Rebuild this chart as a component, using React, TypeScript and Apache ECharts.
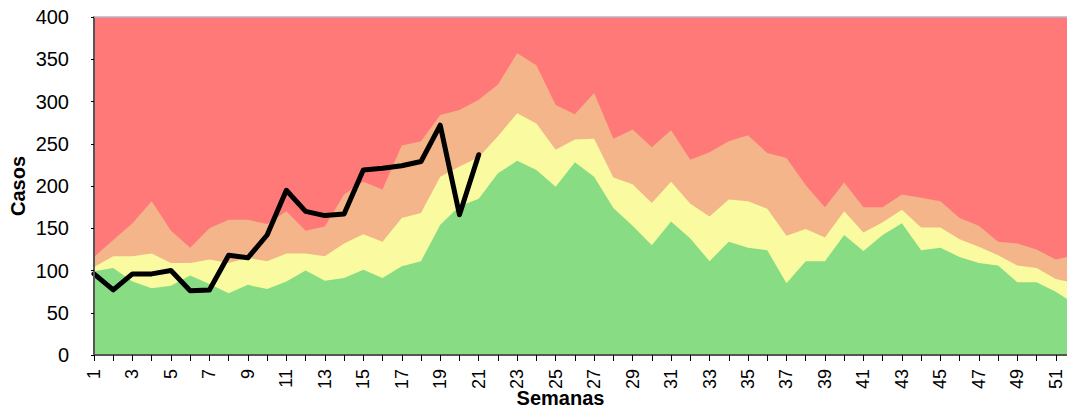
import React, { useEffect, useRef } from "react";
import * as echarts from "echarts";

const weeks = Array.from({ length: 52 }, (_, i) => String(i + 1));

// Upper boundary of each zone (cumulative values, casos)
const zonaExito = [
  99, 103, 87, 79, 82, 94, 84, 73, 83, 78, 87, 100, 88, 91, 101, 91, 105, 111, 154, 176,
  185, 215, 230, 219, 199, 228, 211, 174, 153, 130, 158, 138, 111, 134, 127, 124, 85, 111,
  111, 142, 123, 142, 156, 124, 127, 116, 109, 106, 86, 86, 75, 60,
];
const zonaSeguridad = [
  104, 117, 117, 120, 109, 109, 113, 109, 115, 111, 120, 120, 117, 132, 143, 134, 162, 168,
  211, 223, 234, 259, 286, 274, 243, 255, 256, 210, 202, 180, 205, 179, 164, 184, 182, 173,
  141, 149, 139, 170, 145, 157, 172, 151, 151, 137, 128, 118, 106, 103, 90, 85,
];
const zonaAlarma = [
  116, 136, 156, 182, 147, 127, 150, 160, 160, 155, 170, 147, 152, 190, 205, 196, 248, 253,
  284, 290, 302, 320, 357, 343, 296, 285, 310, 256, 267, 246, 266, 231, 240, 253, 260, 239,
  233, 201, 175, 204, 175, 175, 190, 186, 182, 162, 153, 134, 132, 125, 113, 118,
];
const zonaEpidemia = weeks.map(() => 400);
const casosActuales = [
  96, 77, 96, 96, 100, 76, 77, 118, 115, 142, 195, 170, 165, 167, 219, 221, 224, 229, 272,
  166, 237,
];

const yTicks = { min: 0, max: 400, interval: 50 };

const areaSeries = (name: string, data: number[], color: string) => ({
  name,
  type: "line",
  data,
  symbol: "none",
  lineStyle: { width: 0 },
  areaStyle: { color, opacity: 1 },
  itemStyle: { color },
  silent: true,
});

export default function App() {
  const ref = useRef<HTMLDivElement>(null);
  useEffect(() => {
    if (!ref.current) return;
    const chart = echarts.init(ref.current, null, { renderer: "svg" });
    const lineData = weeks.map((_, i) => (i < casosActuales.length ? casosActuales[i] : null));
    chart.setOption({
      animation: false,
      grid: {
        left: 94,
        top: 17,
        width: 981,
        bottom: 55,
        containLabel: false,
        outerBoundsMode: "none",
      },
      xAxis: [
        {
          type: "category",
          data: weeks,
          boundaryGap: false,
          z: 5,
          name: "Semanas",
          nameLocation: "middle",
          nameGap: 33,
          nameMoveOverlap: false,
          nameTextStyle: {
            fontFamily: "Liberation Sans, Arial, sans-serif",
            fontWeight: "bold",
            fontSize: 20,
            color: "#000",
            padding: [0, 48, 0, 0],
          },
          axisLine: { lineStyle: { color: "#555", width: 2 } },
          axisTick: { show: true, interval: 0, length: 6, lineStyle: { color: "#000" } },
          axisLabel: {
            interval: 1,
            rotate: 90,
            margin: 14,
            fontSize: 18,
            color: "#000",
            fontFamily: "Liberation Sans Narrow, Liberation Sans, Arial, sans-serif",
          },
          splitLine: { show: false },
        },
        {
          type: "category",
          data: weeks,
          boundaryGap: false,
          position: "top",
          z: 5,
          axisLine: { lineStyle: { color: "#b4b4c8", width: 1.5 } },
          axisTick: { show: false },
          axisLabel: { show: false },
          splitLine: { show: false },
        },
      ],
      yAxis: {
        type: "value",
        min: yTicks.min,
        max: yTicks.max,
        interval: yTicks.interval,
        z: 5,
        name: "Casos",
        nameLocation: "middle",
        nameGap: 66,
        nameMoveOverlap: false,
        nameTextStyle: {
          fontFamily: "Liberation Sans, Arial, sans-serif",
          fontWeight: "bold",
          fontSize: 20,
          color: "#000",
        },
        axisLine: { show: true, lineStyle: { color: "#555", width: 2 } },
        axisTick: { show: true, length: 3, lineStyle: { color: "#000" } },
        axisLabel: {
          margin: 25,
          fontSize: 20,
          color: "#000",
          fontFamily: "Liberation Sans, Arial, sans-serif",
        },
        splitLine: { show: false },
      },
      series: [
        areaSeries("Epidemia", zonaEpidemia, "#FF7979"),
        areaSeries("Alarma", zonaAlarma, "#F4B58A"),
        areaSeries("Seguridad", zonaSeguridad, "#FAFBA0"),
        areaSeries("Éxito", zonaExito, "#88DC84"),
        {
          name: "Casos",
          type: "line",
          data: lineData,
          symbol: "none",
          connectNulls: false,
          lineStyle: { color: "#000", width: 5, cap: "round", join: "round" },
          itemStyle: { color: "#000" },
          z: 4,
        },
      ],
    });
    return () => chart.dispose();
  }, []);
  return (
    <div
      ref={ref}
      style={{ position: "fixed", left: 0, top: 0, width: 1067, height: 410, background: "#fff" }}
    />
  );
}
